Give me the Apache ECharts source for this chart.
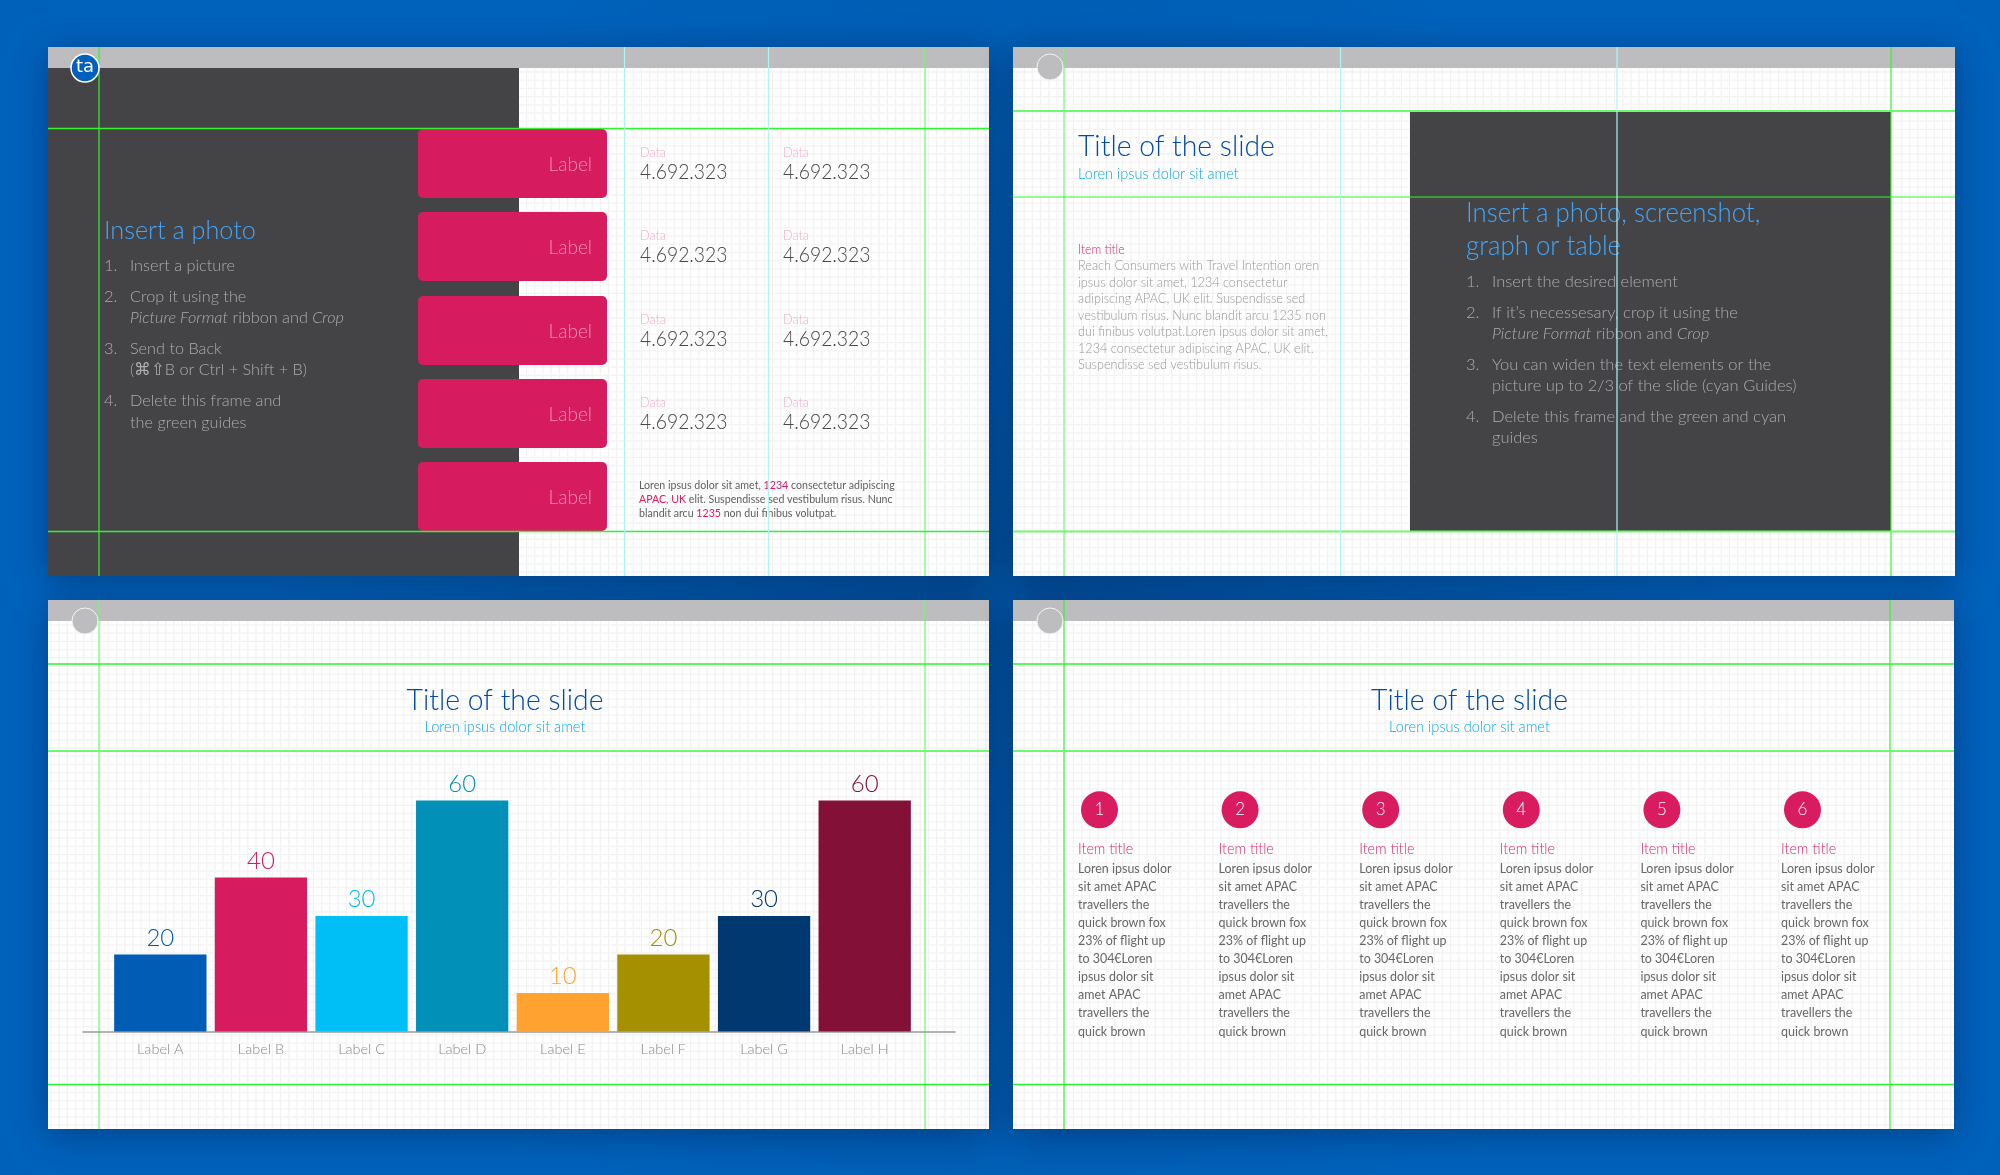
<!DOCTYPE html>
<html>
<head>
<meta charset="utf-8">
<title>Slides</title>
<style>
    html, body { margin: 0; padding: 0; background: #005db5; }
    #main { width: 2000px; height: 1175px; }
</style>
<script src="https://cdn.jsdelivr.net/npm/echarts@6/dist/echarts.min.js"></script>
</head>
<body>
<div id="main"></div>
<script>
// 柱状图数据
var barLabels = ['Label A', 'Label B', 'Label C', 'Label D', 'Label E', 'Label F', 'Label G', 'Label H'];
var barValues = [20, 40, 30, 60, 10, 20, 30, 60];
var barColors = ['#005cb4', '#d71b5f', '#00bef6', '#0090b8', '#ffa22f', '#a49001', '#00386f', '#831037'];

// 幻灯片文字
var slideTitle = 'Title of the slide';
var slideSub = 'Loren ipsus dolor sit amet';
var boxLabel = 'Label';
var dataLabel = 'Data';
var dataValue = '4.692.323';
var photoSteps = ['1.', 'Insert a picture', '2.', 'Crop it using the', '', '{i|Picture Format} ribbon and {i|Crop}',
    '3.', 'Send to Back', '', '(⌘⇧B or Ctrl + Shift + B)', '4.', 'Delete this frame and', '', 'the green guides'];
var noteLines = ['Loren ipsus dolor sit amet, {r|1234} consectetur adipiscing',
    '{r|APAC, UK} elit. Suspendisse sed vestibulum risus. Nunc',
    'blandit arcu {r|1235} non dui finibus volutpat.'];
var itemLines = ['Reach Consumers with Travel Intention oren', 'ipsus dolor sit amet, 1234 consectetur',
    'adipiscing APAC, UK elit. Suspendisse sed', 'vestibulum risus. Nunc blandit arcu 1235 non',
    'dui finibus volutpat.Loren ipsus dolor sit amet,', '1234 consectetur adipiscing APAC, UK elit.',
    'Suspendisse sed vestibulum risus.'];
var screenTitle = ['Insert a photo, screenshot,', 'graph or table'];
var screenSteps = ['1.', 'Insert the desired element', '2.', 'If it\u2019s necessesary, crop it using the',
    '', '{i|Picture Format} ribbon and {i|Crop}', '3.', 'You can widen the text elements or the',
    '', 'picture up to 2/3 of the slide (cyan Guides)', '4.', 'Delete this frame and the green and cyan', '', 'guides'];
var colNumbers = ['1', '2', '3', '4', '5', '6'];
var colLines = ['Loren ipsus dolor', 'sit amet APAC', 'travellers the', 'quick brown fox', '23% of flight up',
    'to 304€Loren', 'ipsus dolor sit', 'amet APAC', 'travellers the', 'quick brown'];

var FONT = 'Lato';
var graphics = [];

function rect(x, y, w, h, fill, extra) {
    var el = { type: 'rect', silent: true, shape: { x: x, y: y, width: w, height: h, r: (extra && extra.r) || 0 },
        style: { fill: fill } };
    if (extra && extra.shadow) {
        el.style.shadowBlur = 34;
        el.style.shadowColor = 'rgba(0,20,60,0.4)';
        el.style.shadowOffsetY = 6;
    }
    graphics.push(el);
}
function line(x1, y1, x2, y2, color, width) {
    graphics.push({ type: 'line', silent: true, shape: { x1: x1, y1: y1, x2: x2, y2: y2 },
        style: { stroke: color, lineWidth: width } });
}
function circle(cx, cy, r, fill, stroke, width) {
    graphics.push({ type: 'circle', silent: true, shape: { cx: cx, cy: cy, r: r },
        style: { fill: fill, stroke: stroke, lineWidth: width } });
}
// scale 用来把 Lato 压窄一点，贴近原图的字宽
function text(str, x, y, size, color, align, scale, weight) {
    var w = weight || 300;
    graphics.push({ type: 'text', silent: true, x: x, y: y, scaleX: scale || 1, style: {
        text: str, fill: color, align: align || 'left', verticalAlign: 'middle',
        fontFamily: FONT, fontSize: size, fontWeight: w,
        rich: {
            i: { fontFamily: FONT, fontSize: size, fontWeight: w, fontStyle: 'italic', fill: color },
            r: { fontFamily: FONT, fontSize: size, fontWeight: w, fill: '#e0195f' }
        }
    } });
}

// 底板：灰条 + 网格
function panel(x0, y0, x1, y1) {
    rect(x0, y0, x1 - x0, y1 - y0, '#ffffff', { shadow: true });
    var i;
    for (i = y0 + 21 + 4; i < y1; i += 8.2) line(x0, i, x1, i, '#f3f3f4', 1.3);
    for (i = x0 + 3; i < x1; i += 8.2) line(i, y0 + 21, i, y1, '#f3f3f4', 1.3);
    rect(x0, y0, x1 - x0, 21, '#bdbdbf');
}

function steps(list, rows, x, size, color, scale) {
    // 序号和正文交替排列
    for (var i = 0; i < rows.length; i++) {
        if (list[i * 2]) text(list[i * 2], x, rows[i], size, color);
        text(list[i * 2 + 1], x + 26, rows[i], size, color, 'left', scale);
    }
}

function buildGraphics() {
    var i, j;
    // 背景：中间偏暗
    rect(0, 0, 2000, 1175, {
        type: 'radial', x: 0.5, y: 0.5, r: 0.62,
        colorStops: [{ offset: 0, color: '#004f9e' }, { offset: 1, color: '#0061bb' }]
    });
    panel(48, 47, 989, 576);
    panel(1013, 47, 1955, 576);
    panel(48, 600, 989, 1129);
    panel(1013, 600, 1954, 1129);

    // 第一页
    rect(48, 68, 471, 508, '#444446');
    var boxTops = [129, 212, 296, 379, 462];
    for (i = 0; i < boxTops.length; i++) {
        rect(418, boxTops[i], 189, 69, '#d71b5f', { r: 5 });
        text(boxLabel, 592, boxTops[i] + 35.5, 19, '#f48fb1', 'right');
    }
    text('Insert a photo', 104, 230.5, 26, '#42a6fb', 'left', 0.97);
    steps(photoSteps, [266, 297, 318, 349, 370, 401, 423], 104, 16.5, '#adadad', 0.985);
    for (i = 0; i < 4; i++) {
        var cols = [640, 783];
        for (j = 0; j < 2; j++) {
            text(dataLabel, cols[j], boxTops[i] + 23, 14, '#f6a9c4', 'left', 0.9);
            text(dataValue, cols[j], boxTops[i] + 43, 21, '#484848', 'left', 0.92);
        }
    }
    for (i = 0; i < noteLines.length; i++) text(noteLines[i], 639, 485 + i * 14, 12, '#606060', 'left', 0.885, 400);

    // 第二页
    rect(1410, 111, 481, 420.5, '#444446');
    text(slideTitle, 1078, 146.5, 30, '#004aa8', 'left', 0.945);
    text(slideSub, 1078, 174, 15, '#08a8e6', 'left', 0.97);
    text('Item title', 1078, 250, 13, '#e01f64', 'left', 0.93);
    for (i = 0; i < itemLines.length; i++) text(itemLines[i], 1078, 266 + i * 16.5, 13, '#989898', 'left', 0.974);
    text(screenTitle[0], 1466, 213, 27, '#42a6fb', 'left', 0.955);
    text(screenTitle[1], 1466, 246, 27, '#42a6fb', 'left', 0.955);
    steps(screenSteps, [282, 313, 334, 365, 386, 417, 438], 1466, 16.5, '#adadad', 1);

    // 第三、四页标题
    text(slideTitle, 505, 700, 30, '#004aa8', 'center', 0.945);
    text(slideSub, 505, 727.5, 15, '#08a8e6', 'center', 0.97);
    text(slideTitle, 1469.5, 700, 30, '#004aa8', 'center', 0.945);
    text(slideSub, 1469.5, 727.5, 15, '#08a8e6', 'center', 0.97);

    // 第四页六列
    for (i = 0; i < colNumbers.length; i++) {
        var left = 1078 + i * 140.6;
        circle(left + 21.5, 809.8, 18.5, '#d91b5f');
        text(colNumbers[i], left + 21.5, 810, 17, '#ffffff', 'center');
        text('Item title', left, 849.6, 15, '#e01f64', 'left', 0.955);
        for (j = 0; j < colLines.length; j++) text(colLines[j], left, 868 + j * 18.12, 14, '#666666', 'left', 0.89, 400);
    }

    // 绿色、青色参考线
    var g = '#2ff52f', pale = '#6ff96f', cy = '#aef5f3';
    line(99, 47, 99, 576, g, 1.2); line(925, 47, 925, 576, pale, 1.2);
    line(48, 128.5, 989, 128.5, g, 1.5); line(48, 531.5, 989, 531.5, g, 1.5);
    line(624.5, 47, 624.5, 576, cy, 1.2); line(768.5, 47, 768.5, 576, cy, 1.2);

    line(1064, 47, 1064, 576, pale, 1.2); line(1891, 47, 1891, 576, g, 1.2);
    line(1013, 111, 1955, 111, pale, 2); line(1013, 197, 1955, 197, g, 1.2); line(1013, 531.5, 1955, 531.5, pale, 1.8);
    line(1340.5, 47, 1340.5, 576, cy, 1.2); line(1617, 47, 1617, 576, cy, 1.2);

    line(99, 600, 99, 1129, pale, 1.2); line(925, 600, 925, 1129, pale, 1.2);
    line(48, 664, 989, 664, g, 1.5); line(48, 751, 989, 751, pale, 2); line(48, 1084.5, 989, 1084.5, g, 1.5);

    line(1064, 600, 1064, 1129, g, 1.2); line(1890, 600, 1890, 1129, g, 1.2);
    line(1013, 664, 1954, 664, g, 1.5); line(1013, 751, 1954, 751, pale, 2); line(1013, 1084.5, 1954, 1084.5, g, 1.5);

    // 左上角圆点
    circle(85, 68, 14, '#0060bc', '#ffffff', 1.5);
    graphics.push({ type: 'text', silent: true, x: 85, y: 67, style: { text: 'ta', fill: '#ffffff',
        align: 'center', verticalAlign: 'middle', fontFamily: 'DejaVu Sans', fontSize: 18 } });
    circle(1050, 67, 13, '#bdbdbf', '#f4f4f4', 1);
    circle(85, 621, 13, '#bdbdbf', '#f4f4f4', 1);
    circle(1050, 621, 13, '#bdbdbf', '#f4f4f4', 1);
}

buildGraphics();

var chart = echarts.init(document.getElementById('main'));
chart.setOption({
    animation: false,
    backgroundColor: '#005db5',
    graphic: { elements: graphics },
    // 第二个 grid 只用来画更长的底线
    grid: [
        { left: 110, top: 800.4, width: 805, height: 231 },
        { left: 83, top: 800.4, width: 872, height: 231 }
    ],
    xAxis: [{
        type: 'category', gridIndex: 0, data: barLabels,
        axisLine: { show: false }, axisTick: { show: false },
        axisLabel: { color: '#8a8a8a', fontFamily: FONT, fontWeight: 300, fontSize: 14.5, margin: 10 }
    }, {
        type: 'category', gridIndex: 1, data: [],
        axisLine: { show: true, lineStyle: { color: '#9a9a9a', width: 1.5 } },
        axisTick: { show: false }, axisLabel: { show: false }
    }],
    yAxis: [
        { type: 'value', gridIndex: 0, min: 0, max: 60, show: false },
        { type: 'value', gridIndex: 1, min: 0, max: 60, show: false }
    ],
    series: [{
        type: 'bar',
        xAxisIndex: 0,
        yAxisIndex: 0,
        barWidth: 92.3,
        data: barValues.map(function (v, i) {
            return {
                value: v,
                itemStyle: { color: barColors[i] },
                label: { color: barColors[i] }
            };
        }),
        label: { show: true, position: 'top', distance: 4.5, fontFamily: FONT, fontWeight: 300, fontSize: 24 }
    }]
});
</script>
</body>
</html>
